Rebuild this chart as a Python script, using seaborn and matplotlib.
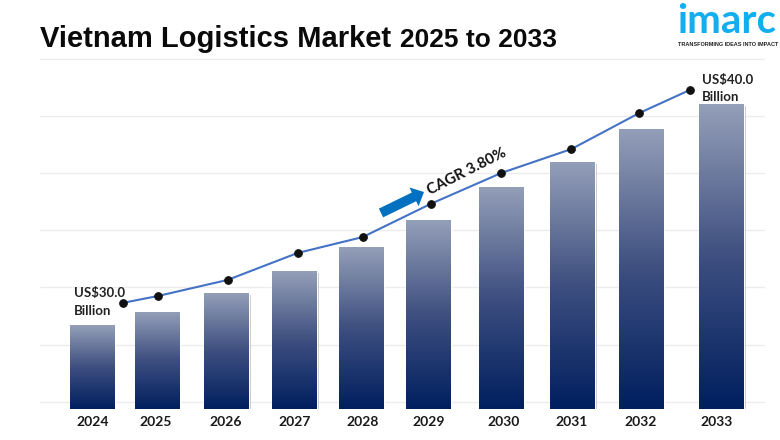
import numpy as np
import pandas as pd
import matplotlib
matplotlib.use("Agg")
import matplotlib.pyplot as plt
import matplotlib.patheffects as pe
from matplotlib.colors import LinearSegmentedColormap
from matplotlib.patches import FancyArrowPatch
import seaborn as sns

# ---- data (US$ billion) ----
years = [2024, 2025, 2026, 2027, 2028, 2029, 2030, 2031, 2032, 2033]
bar_values = [30.0, 30.59, 31.45, 32.44, 33.53, 34.75, 36.25, 37.38, 38.87, 40.0]
line_values = [31.0, 31.31, 32.04, 33.26, 33.98, 35.48, 36.88, 37.96, 39.59, 40.63]

# ---- the reference spaces its marks unevenly: positions on a fractional-year scale ----
bar_pos = [2024.0, 2024.93, 2025.92, 2026.89, 2027.84, 2028.80, 2029.84, 2030.86, 2031.84, 2032.99]
line_pos = [2024.43, 2024.93, 2025.93, 2026.93, 2027.86, 2028.83, 2029.84, 2030.84, 2031.81, 2032.53]
tick_pos = [2024.0, 2024.90, 2025.91, 2026.89, 2027.86, 2028.81, 2029.87, 2030.84, 2031.83, 2032.91]
grid_levels = [26.52, 29.11, 31.70, 34.28, 36.87, 39.46, 42.04]

W, H = 780, 440
def fx(px): return px / W
def fy(py): return 1 - py / H

sns.set_theme(style="white")
plt.rcParams["font.family"] = ["Lato", "DejaVu Sans"]

fig = plt.figure(figsize=(7.8, 4.4), dpi=100, facecolor="white")
ax = fig.add_axes([fx(40), fy(409), fx(765 - 40), 409 / H])

df_bars = pd.DataFrame({"pos": bar_pos, "value": bar_values})
sns.barplot(data=df_bars, x="pos", y="value", native_scale=True, width=0.69,
            color="#5a6a8e", saturation=1, ax=ax, zorder=2, errorbar=None)

df_line = pd.DataFrame({"pos": line_pos, "value": line_values})
sns.lineplot(data=df_line, x="pos", y="value", color="#4472c4", linewidth=1.5,
             marker="o", markersize=5.5, markerfacecolor="#111111",
             markeredgecolor="#111111", ax=ax, zorder=5, errorbar=None)

xlim = (2024 + (40 - 92.5) / 70, 2024 + (765 - 92.5) / 70)
ylim = (26.2, 26.2 + 409 / 22.1)

cmap = LinearSegmentedColormap.from_list("bar", ["#001f5f", "#3e4f80", "#949fb8"])
grad = np.linspace(1, 0, 256).reshape(-1, 1)
for p in ax.patches:
    p.set_path_effects([pe.SimplePatchShadow(offset=(1, -1.5), shadow_rgbFace="#888888", alpha=0.5),
                        pe.Normal()])
    x0, w, top = p.get_x(), p.get_width(), p.get_height()
    im = ax.imshow(grad, cmap=cmap, vmin=0, vmax=1, aspect="auto", zorder=3,
                   extent=(x0, x0 + w, ylim[0], top))
    im.set_clip_path(p)

ax.set_xlim(*xlim)
ax.set_ylim(*ylim)
ax.set_xticks(tick_pos)
ax.set_xticklabels([str(y) for y in years], fontsize=10, fontweight="bold", color="#1a1a1a")
ax.set_yticks(grid_levels)
ax.set_yticklabels([])
ax.tick_params(axis="both", length=0)
ax.tick_params(axis="x", pad=5)
ax.set_xlabel("")
ax.set_ylabel("")
ax.grid(axis="y", color="#ececec", linewidth=1)
ax.grid(axis="x", visible=False)
ax.set_axisbelow(True)
for s in ax.spines.values():
    s.set_visible(False)
ax.patch.set_alpha(0)

# titles
fig.text(fx(40), fy(47), "Vietnam Logistics Market", fontsize=21, fontweight="bold",
         family="Liberation Sans", color="#0a0a0a")
fig.text(fx(400), fy(47), "2025 to 2033", fontsize=19, fontweight="bold",
         family="Liberation Sans", color="#0a0a0a")

# value labels
lab = dict(fontsize=9.5, fontweight="bold", color="#222222", va="baseline")
fig.text(fx(74), fy(297), "US$30.0", **lab)
fig.text(fx(74), fy(315), "Billion", **lab)
fig.text(fx(702), fy(84), "US$40.0", **lab)
fig.text(fx(702), fy(101), "Billion", **lab)

# CAGR annotation
fig.text(fx(467), fy(172), "CAGR 3.80%", fontsize=10.8, fontweight="bold", color="#111111",
         rotation=27, rotation_mode="anchor", ha="center", va="center")
fig.add_artist(FancyArrowPatch((fx(381), fy(213)), (fx(424), fy(192)),
                               transform=fig.transFigure,
                               arrowstyle="simple,head_width=15,head_length=8,tail_width=7",
                               mutation_scale=1, color="#0070c0", lw=0, shrinkA=0, shrinkB=0))

# logo
logo = "#12aeef"
fig.text(fx(677), fy(33), "imarc", fontsize=29, fontweight="bold", family="Lato",
         color=logo, va="baseline")
fig.text(fx(678), fy(46), "TRANSFORMING IDEAS INTO IMPACT", fontsize=3.95, fontweight="bold",
         family="Liberation Sans", color="#222222")

fig.savefig("out.png", dpi=100, facecolor="white")
